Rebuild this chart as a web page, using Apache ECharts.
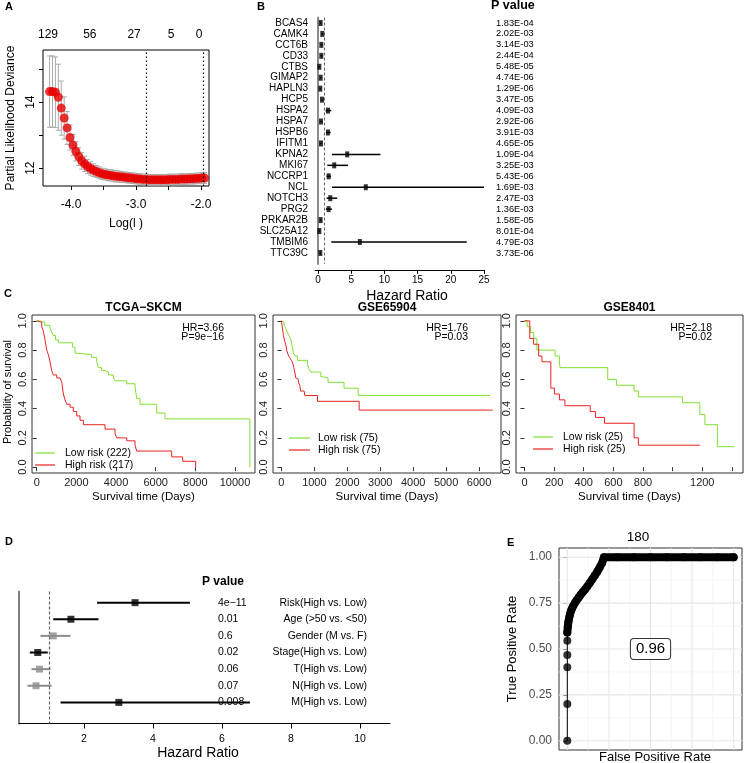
<!DOCTYPE html>
<html>
<head>
<meta charset="utf-8">
<script src="https://cdn.jsdelivr.net/npm/echarts@6.0.0/dist/echarts.min.js"></script>
<style>
html,body{margin:0;padding:0;background:#fff;}
#chart{width:747px;height:763px;}
</style>
</head>
<body>
<div id="chart"></div>
<script>
// ---------------- Panel A : LASSO cross-validation ----------------
const lassoLogLambda = [-4.33,-4.285,-4.24,-4.195,-4.15,-4.105,-4.06,-4.015,-3.97,-3.925,-3.88,-3.835,-3.79,-3.745,-3.70,-3.655,-3.61,-3.565,-3.52,-3.475,-3.43,-3.385,-3.34,-3.295,-3.25,-3.205,-3.16,-3.115,-3.07,-3.025,-2.98,-2.935,-2.89,-2.845,-2.80,-2.755,-2.71,-2.665,-2.62,-2.575,-2.53,-2.485,-2.44,-2.395,-2.35,-2.305,-2.26,-2.215,-2.17,-2.125,-2.08,-2.035,-1.99,-1.945];
const lassoDeviance = [14.32,14.32,14.30,14.15,13.82,13.52,13.22,12.93,12.70,12.51,12.35,12.22,12.13,12.05,11.99,11.94,11.90,11.86,11.83,11.81,11.79,11.78,11.76,11.75,11.74,11.73,11.72,11.71,11.70,11.69,11.68,11.67,11.66,11.66,11.65,11.65,11.65,11.65,11.65,11.65,11.65,11.66,11.66,11.66,11.66,11.67,11.67,11.67,11.68,11.68,11.69,11.69,11.70,11.70];
const lassoSD = [1.08,1.08,1.07,1.00,0.82,0.64,0.50,0.38,0.32,0.29,0.27,0.25,0.23,0.21,0.20,0.19,0.18,0.18,0.17,0.17,0.17,0.17,0.17,0.17,0.17,0.16,0.16,0.16,0.16,0.16,0.16,0.16,0.16,0.16,0.16,0.16,0.16,0.16,0.16,0.16,0.16,0.16,0.16,0.16,0.16,0.16,0.16,0.16,0.16,0.16,0.16,0.16,0.16,0.16];
const lassoTopLambda = [-4.354,-3.71,-3.03,-2.46,-2.03];
const lassoTopCount = ['129','56','27','5','0'];
const lassoSelected = [-2.846,-1.965];
const lassoXTicks = [-4,-3.5,-3,-2.5,-2];
const lassoXLabels = [-4,-3,-2];
const lassoYTicks = [12,13,14,15];
const lassoYLabels = [12,14];

// ---------------- Panel B : univariate Cox ----------------
const uniGenes = ['BCAS4','CAMK4','CCT6B','CD33','CTBS','GIMAP2','HAPLN3','HCP5','HSPA2','HSPA7','HSPB6','IFITM1','KPNA2','MKI67','NCCRP1','NCL','NOTCH3','PRG2','PRKAR2B','SLC25A12','TMBIM6','TTC39C'];
const uniHR   = [0.40,0.65,0.50,0.50,0.20,0.40,0.35,0.60,1.50,0.45,1.50,0.45,4.40,2.45,1.60,7.20,1.85,1.60,0.40,0.20,6.30,0.35];
const uniLow  = [0.30,0.55,0.40,0.40,0.12,0.30,0.25,0.50,1.15,0.35,1.20,0.35,2.10,1.40,1.30,2.10,1.30,1.20,0.30,0.10,2.00,0.25];
const uniHigh = [0.50,0.75,0.65,0.65,0.30,0.50,0.45,0.70,2.00,0.55,1.90,0.55,9.40,4.50,1.95,25.0,2.90,2.10,0.50,0.30,22.4,0.45];
const uniP = ['1.83E-04','2.02E-03','3.14E-03','2.44E-04','5.48E-05','4.74E-06','1.29E-06','3.47E-05','4.09E-03','2.92E-06','3.91E-03','4.65E-05','1.09E-04','3.25E-03','5.43E-06','1.69E-03','2.47E-03','1.36E-03','1.58E-05','8.01E-04','4.79E-03','3.73E-06'];
const uniXTicks = [0,5,10,15,20,25];

// ---------------- Panel C : Kaplan-Meier ----------------
const kmTcgaLowT  = [0,170,400,672,760,840,950,1092,1815,1933,2017,2773,3025,3109,3277,3445,3613,3866,3950,4538,4958,5042,5210,6050,6471,10750,10750];
const kmTcgaLowS  = [1,0.99,0.97,0.95,0.92,0.90,0.87,0.85,0.82,0.78,0.77,0.75,0.72,0.68,0.66,0.65,0.63,0.61,0.59,0.57,0.55,0.47,0.43,0.37,0.33,0.33,0];
const kmTcgaHighT = [0,84,252,336,420,504,588,672,756,840,1008,1176,1261,1345,1429,1513,1681,1849,2017,2185,2353,3445,3950,4034,4538,4958,5042,6807,7361,8017,8017];
const kmTcgaHighS = [1,0.99,0.96,0.93,0.87,0.80,0.77,0.72,0.66,0.63,0.61,0.60,0.58,0.50,0.46,0.43,0.41,0.38,0.35,0.32,0.29,0.26,0.23,0.20,0.18,0.15,0.11,0.07,0.04,0.04,0];
const kmG659LowT  = [0,50,80,130,180,230,285,335,365,415,485,790,840,890,1195,1245,1415,1900,2330,6335];
const kmG659LowS  = [1,0.99,0.97,0.95,0.92,0.90,0.87,0.82,0.78,0.76,0.73,0.70,0.67,0.65,0.62,0.61,0.58,0.54,0.49,0.49];
const kmG659HighT = [0,30,60,100,130,160,200,245,305,345,375,405,435,485,515,555,585,690,710,1095,2360,6410];
const kmG659HighS = [1,0.95,0.90,0.86,0.84,0.80,0.77,0.75,0.73,0.71,0.68,0.65,0.61,0.60,0.58,0.56,0.52,0.51,0.49,0.45,0.39,0.39];
const kmG840LowT  = [0,18,40,62,84,207,236,240,562,622,740,769,1067,1184,1218,1302,1418];
const kmG840LowS  = [1,0.96,0.92,0.88,0.80,0.76,0.72,0.68,0.60,0.56,0.52,0.48,0.44,0.36,0.29,0.14,0.14];
const kmG840HighT = [0,36,62,96,118,178,202,236,273,444,480,540,740,769,1184];
const kmG840HighS = [1,0.88,0.84,0.76,0.72,0.54,0.50,0.46,0.42,0.38,0.34,0.30,0.20,0.15,0.15];
const kmTitles = ['TCGA\u2212SKCM','GSE65904','GSE8401'];
const kmHR = ['HR=3.66','HR=1.76','HR=2.18'];
const kmP  = ['P=9e\u221216','P=0.03','P=0.02'];
const kmLowLabel  = ['Low risk (222)','Low risk (75)','Low risk (25)'];
const kmHighLabel = ['High risk (217)','High risk (75)','High risk (25)'];
const kmYTicks = [0,0.2,0.4,0.6,0.8,1.0];
const kmX1Ticks = [0,2000,4000,6000,8000,10000];
const kmX2Ticks = [0,1000,2000,3000,4000,5000,6000];
const kmX3Ticks = [0,200,400,600,800,1000,1200,1400];
const kmX3Labels = [0,200,400,600,800,1200];

// ---------------- Panel D : multivariate Cox ----------------
const multiVars = ['Risk(High vs. Low)','Age (>50 vs. <50)','Gender (M vs. F)','Stage(High vs. Low)','T(High vs. Low)','N(High vs. Low)','M(High vs. Low)'];
const multiP    = ['4e\u221211','0.01','0.6','0.02','0.06','0.07','0.008'];
const multiHR   = [3.48,1.62,1.11,0.66,0.71,0.61,3.01];
const multiLow  = [2.38,1.11,0.74,0.43,0.48,0.36,1.32];
const multiHigh = [5.07,2.42,1.61,0.95,1.03,1.06,6.81];
const multiSig  = [1,1,0,1,0,0,1];
const multiXTicks = [2,4,6,8,10];

// ---------------- Panel E : ROC ----------------
const rocFPR = [0,0,0,0,0,0,0.003,0.006,0.01,0.015,0.021,0.028,0.036,0.045,0.056,0.068,0.08,0.093,0.107,0.12,0.135,0.15,0.165,0.18,0.195,0.21,0.22,0.3,0.4,0.5,0.6,0.7,0.8,0.9,1.0];
const rocTPR = [0,0.2,0.4,0.467,0.545,0.59,0.62,0.645,0.665,0.685,0.705,0.72,0.735,0.75,0.765,0.78,0.795,0.81,0.825,0.84,0.86,0.88,0.90,0.92,0.945,0.97,1.0,1,1,1,1,1,1,1,1];
const rocAUC = '0.96';
const rocTitle = '180';
const rocYTicks = [0,0.25,0.5,0.75,1];
const rocGridMajor = [0,0.25,0.5,0.75,1];
const rocGridMinor = [0.125,0.375,0.625,0.875];

// =================================================================
const FONT = '"Liberation Sans", Arial, Helvetica, sans-serif';
const chart = echarts.init(document.getElementById('chart'), null, {renderer:'canvas', width:747, height:763});

function nearest(arr, v){ let b=0; for(let i=1;i<arr.length;i++){ if(Math.abs(arr[i]-v)<Math.abs(arr[b]-v)) b=i; } return b; }
function lbl(o){ return Object.assign({show:true, color:'#000', fontFamily:FONT, fontSize:11}, o); }
function ax(o){
  return Object.assign({type:'value', splitLine:{show:false}, axisLine:{show:false},
    axisTick:{show:false}, axisLabel:{show:false}}, o);
}
function ticks(vals, len, color){ return {show:true, length:len||4, customValues:vals, lineStyle:{color:color||'#000', width:1}}; }
const pairs = (a,b) => a.map((v,i)=>[v,b[i]]);
const plain = v => String(v);

const grids = [
  {left:43, top:50, width:166, height:136, show:true, borderColor:'#000', borderWidth:1, backgroundColor:'transparent', outerBoundsMode:'none'},
  {left:315, top:17.5, width:169, height:246.4, outerBoundsMode:'none'},
  {left:32, top:315, width:223, height:158, show:true, borderColor:'#333', borderWidth:1, backgroundColor:'transparent', outerBoundsMode:'none'},
  {left:273, top:315, width:228, height:158, show:true, borderColor:'#333', borderWidth:1, backgroundColor:'transparent', outerBoundsMode:'none'},
  {left:516, top:315, width:227, height:158, show:true, borderColor:'#333', borderWidth:1, backgroundColor:'transparent', outerBoundsMode:'none'},
  {left:19, top:591.5, width:371, height:132, outerBoundsMode:'none'},
  {left:559, top:548, width:183, height:202, show:true, borderColor:'#333', borderWidth:1, backgroundColor:'#fff', outerBoundsMode:'none'}
];

const xAxes = [
  ax({gridIndex:0, min:-4.431, max:-1.877, axisTick:ticks(lassoXTicks,4),
      axisLabel:lbl({customValues:lassoXLabels, formatter:v=>v.toFixed(1), fontSize:12, margin:13})}),
  ax({gridIndex:0, position:'top', min:-4.431, max:-1.877,
      axisLabel:lbl({customValues:lassoTopLambda, formatter:v=>lassoTopCount[nearest(lassoTopLambda,v)], fontSize:12, margin:9})}),
  ax({gridIndex:1, min:-0.45, max:25, offset:6, axisLine:{show:true, lineStyle:{color:'#000', width:1}}, axisTick:ticks(uniXTicks,4),
      axisLabel:lbl({customValues:uniXTicks, formatter:plain, fontSize:10, margin:5})}),
  ax({gridIndex:2, min:-237, max:11008, axisTick:ticks(kmX1Ticks,4,'#333'), axisLabel:lbl({customValues:kmX1Ticks, formatter:plain, fontSize:11, margin:4, color:'#222'})}),
  ax({gridIndex:3, min:-256, max:6666, axisTick:ticks(kmX2Ticks,4,'#333'), axisLabel:lbl({customValues:kmX2Ticks, formatter:plain, fontSize:11, margin:4, color:'#222'})}),
  ax({gridIndex:4, min:-57, max:1475, axisTick:ticks(kmX3Ticks,4,'#333'), axisLabel:lbl({customValues:kmX3Labels, formatter:plain, fontSize:11, margin:4, color:'#222'})}),
  ax({gridIndex:5, min:0.116, max:10.87, axisLine:{show:true, lineStyle:{color:'#000', width:1}}, axisTick:ticks(multiXTicks,5),
      axisLabel:lbl({customValues:multiXTicks, formatter:plain, fontSize:10.5, margin:10})}),
  ax({gridIndex:6, min:-0.05, max:1.05})
];
const yAxes = [
  ax({gridIndex:0, min:11.46, max:15.58, axisTick:ticks(lassoYTicks,4),
      axisLabel:lbl({customValues:lassoYLabels, formatter:plain, rotate:90, fontSize:12, margin:6})}),
  ax({gridIndex:1, inverse:true, min:0.5, max:23, axisLine:{show:true, lineStyle:{color:'#8a8a8a', width:2}},
      axisLabel:lbl({customValues:uniGenes.map((g,i)=>i+1), formatter:v=>uniGenes[Math.round(v)-1], fontSize:10, margin:7})}),
  ax({gridIndex:1, position:'right', inverse:true, min:0.5, max:23,
      axisLabel:lbl({customValues:uniP.map((g,i)=>i+1), formatter:v=>uniP[Math.round(v)-1], fontSize:9.3, margin:12, align:'left'})}),
  ax({gridIndex:2, min:-0.04, max:1.04, axisTick:ticks(kmYTicks,4,'#333'), axisLabel:lbl({customValues:kmYTicks, formatter:v=>v.toFixed(1), rotate:90, fontSize:11, margin:4, color:'#222'})}),
  ax({gridIndex:3, min:-0.04, max:1.04, axisTick:ticks(kmYTicks,4,'#333'), axisLabel:lbl({customValues:kmYTicks, formatter:v=>v.toFixed(1), rotate:90, fontSize:11, margin:4, color:'#222'})}),
  ax({gridIndex:4, min:-0.04, max:1.04, axisTick:ticks(kmYTicks,4,'#333'), axisLabel:lbl({customValues:kmYTicks, formatter:v=>v.toFixed(1), rotate:90, fontSize:11, margin:4, color:'#222'})}),
  ax({gridIndex:5, inverse:true, min:0.33, max:8.27, axisLine:{show:true, lineStyle:{color:'#808080', width:2}}}),
  ax({gridIndex:6, min:-0.05, max:1.05, axisTick:ticks(rocYTicks,4,'#333'),
      axisLabel:lbl({customValues:rocYTicks, formatter:v=>v.toFixed(2), fontSize:12, margin:7, color:'#4d4d4d'})})
];

const GREEN = '#7fe030', RED = '#e8231f';
function kmSeries(t, s, color, idx){
  return {type:'line', xAxisIndex:idx, yAxisIndex:idx, step:'end', symbol:'none', showSymbol:false, silent:true, z:3,
    data:pairs(t,s), lineStyle:{color, width:1}, itemStyle:{color}};
}
function lineEl(a,b,st){ return {type:'line', shape:{x1:a[0],y1:a[1],x2:b[0],y2:b[1]}, style:st}; }

const series = [
  {type:'custom', xAxisIndex:0, yAxisIndex:0, z:2, silent:true, encode:{x:0, y:[1,2]},
   data: lassoLogLambda.map((l,i)=>[l, lassoDeviance[i]-lassoSD[i], lassoDeviance[i]+lassoSD[i]]),
   renderItem:(p,api)=>{
     const t=api.coord([api.value(0),api.value(2)]), b=api.coord([api.value(0),api.value(1)]);
     const st={stroke:'#a9a9a9', lineWidth:1};
     return {type:'group', children:[lineEl(t,b,st), lineEl([t[0]-2.5,t[1]],[t[0]+2.5,t[1]],st), lineEl([b[0]-2.5,b[1]],[b[0]+2.5,b[1]],st)]};
   }},
  {type:'scatter', xAxisIndex:0, yAxisIndex:0, z:3, silent:true, symbol:'circle', symbolSize:9,
   itemStyle:{color:'#e60000'}, data:pairs(lassoLogLambda, lassoDeviance),
   markLine:{silent:true, symbol:['none','none'], label:{show:false}, animation:false,
     lineStyle:{color:'#000', type:[1.5,2.5], width:1.2}, data:lassoSelected.map(v=>({xAxis:v}))}},
  {type:'custom', xAxisIndex:2, yAxisIndex:1, z:3, silent:true, encode:{x:[0,1], y:2},
   data: uniGenes.map((g,i)=>[uniLow[i], uniHigh[i], i+1]),
   renderItem:(p,api)=>{
     const a=api.coord([api.value(0),api.value(2)]), b=api.coord([api.value(1),api.value(2)]);
     return lineEl(a,b,{stroke:'#000', lineWidth:1.5});
   }},
  {type:'scatter', xAxisIndex:2, yAxisIndex:1, z:4, silent:true, symbol:'rect', symbolSize:[4,6],
   itemStyle:{color:'#000'}, data: uniHR.map((h,i)=>[h,i+1]),
   markLine:{silent:true, symbol:['none','none'], label:{show:false}, animation:false,
     lineStyle:{color:'#666', type:[3,2], width:1}, data:[{xAxis:1}]}},
  kmSeries(kmTcgaLowT, kmTcgaLowS, GREEN, 3),
  kmSeries(kmTcgaHighT, kmTcgaHighS, RED, 3),
  kmSeries(kmG659LowT, kmG659LowS, GREEN, 4),
  kmSeries(kmG659HighT, kmG659HighS, RED, 4),
  kmSeries(kmG840LowT, kmG840LowS, GREEN, 5),
  kmSeries(kmG840HighT, kmG840HighS, RED, 5),
  {type:'custom', xAxisIndex:6, yAxisIndex:6, z:3, silent:true, encode:{x:0, y:1},
   data: multiVars.map((v,i)=>[1, i+1]),
   renderItem:(p,api)=>{
     const y=api.coord([1, api.value(1)])[1];
     const base={fill:'#000', fontSize:10.5, fontFamily:FONT, verticalAlign:'middle', textVerticalAlign:'middle'};
     return {type:'group', children:[
       {type:'text', x:218, y:y, style:Object.assign({text:multiP[p.dataIndex], align:'left', textAlign:'left'}, base)},
       {type:'text', x:367, y:y, style:Object.assign({text:multiVars[p.dataIndex], align:'right', textAlign:'right'}, base)}
     ]};
   }},
  {type:'custom', xAxisIndex:6, yAxisIndex:6, z:4, silent:true, encode:{x:[0,1], y:2},
   data: multiVars.map((v,i)=>[multiLow[i], multiHigh[i], i+1]),
   renderItem:(p,api)=>{
     const a=api.coord([api.value(0),api.value(2)]), b=api.coord([api.value(1),api.value(2)]);
     return lineEl(a,b,{stroke: multiSig[p.dataIndex] ? '#000' : '#8c8c8c', lineWidth:2});
   }},
  {type:'scatter', xAxisIndex:6, yAxisIndex:6, z:5, silent:true, symbol:'rect', symbolSize:7,
   data: multiHR.map((h,i)=>({value:[h,i+1], itemStyle:{color: multiSig[i] ? '#000' : '#8c8c8c'}})),
   markLine:{silent:true, symbol:['none','none'], label:{show:false}, animation:false,
     lineStyle:{color:'#666', type:[3,2], width:1.2}, data:[{xAxis:1}]}},
  {type:'custom', xAxisIndex:7, yAxisIndex:7, z:1, silent:true,
   data: rocGridMajor.map(v=>[v,1]).concat(rocGridMinor.map(v=>[v,0])),
   renderItem:(p,api)=>{
     const v=api.value(0), mj=api.value(1);
     const st={stroke: mj ? '#e6e6e6' : '#f2f2f2', lineWidth: mj ? 1.1 : 0.7};
     return {type:'group', children:[
       lineEl(api.coord([v,-0.05]), api.coord([v,1.05]), st),
       lineEl(api.coord([-0.05,v]), api.coord([1.05,v]), st)]};
   }},
  {type:'line', xAxisIndex:7, yAxisIndex:7, z:3, silent:true, symbol:'none', showSymbol:false,
   data: pairs(rocFPR, rocTPR).slice(0,6), lineStyle:{color:'#000', width:1}},
  {type:'line', xAxisIndex:7, yAxisIndex:7, z:3, silent:true, symbol:'none', showSymbol:false,
   data: pairs(rocFPR, rocTPR).slice(5), lineStyle:{color:'#000', width:8, cap:'round', join:'round'}},
  {type:'scatter', xAxisIndex:7, yAxisIndex:7, z:4, silent:true, symbol:'circle', symbolSize:8,
   itemStyle:{color:'#000'}, data: pairs(rocFPR, rocTPR)},
  {type:'custom', xAxisIndex:7, yAxisIndex:7, z:6, silent:true, data:[[0.5,0.5]],
   renderItem:(p,api)=>{
     const c=api.coord([api.value(0),api.value(1)]);
     return {type:'text', x:c[0], y:c[1], style:{text:rocAUC, fill:'#000', fontSize:15, fontFamily:FONT,
       align:'center', verticalAlign:'middle', textAlign:'center', textVerticalAlign:'middle',
       backgroundColor:'#fff', borderColor:'#333', borderWidth:1, borderRadius:3, padding:[3,5,2,5]}};
   }}
];

const G = [];
function txt(text, x, y, o){
  o = o || {};
  G.push({type:'text', x:x, y:y, rotation:o.rot||0, z:100, silent:true,
    style:{text:text, fill:o.color||'#000', fontSize:o.size||12, fontWeight:o.bold?'bold':'normal', fontFamily:FONT,
      align:o.align||'left', verticalAlign:'middle', textAlign:o.align||'left', textVerticalAlign:'middle'}});
}
function seg(x1,y1,x2,y2,color,w){ G.push({type:'line', z:100, silent:true, shape:{x1:x1,y1:y1,x2:x2,y2:y2}, style:{stroke:color, lineWidth:w||1}}); }

txt('A', 5, 7, {bold:true, size:11});
txt('B', 257, 7, {bold:true, size:11});
txt('C', 4, 294, {bold:true, size:11});
txt('D', 5, 542, {bold:true, size:11});
txt('E', 507, 543, {bold:true, size:11});
txt('Partial Likelihood Deviance', 11, 118, {rot:Math.PI/2, align:'center', size:12});
txt('Log(l )', 126, 224, {align:'center', size:12});
txt('P value', 491, 6, {bold:true, size:12.5});
txt('Hazard Ratio', 407, 296, {align:'center', size:14});
const kmCx = [143.5, 387, 629.5];
const kmRight = [224, 468, 712];
const legX = [[35,55,65],[289,310,318],[533,553,563]];
const legY = [[453,465],[438,450],[437,449]];
for (let i=0;i<3;i++){
  txt(kmTitles[i], kmCx[i], 308, {align:'center', bold:true, size:12});
  txt(kmHR[i], kmRight[i], 328, {align:'right', size:10.5});
  txt(kmP[i], kmRight[i], 337.5, {align:'right', size:10.5});
  txt('Survival time (Days)', kmCx[i], 497, {align:'center', size:11.5});
  seg(legX[i][0], legY[i][0], legX[i][1], legY[i][0], GREEN, 1.2);
  seg(legX[i][0], legY[i][1], legX[i][1], legY[i][1], RED, 1.2);
  txt(kmLowLabel[i], legX[i][2], legY[i][0], {size:10.5});
  txt(kmHighLabel[i], legX[i][2], legY[i][1], {size:10.5});
}
txt('Probability of survival', 8, 392, {rot:Math.PI/2, align:'center', size:11});
txt('P value', 202, 582, {bold:true, size:12});
txt('Hazard Ratio', 198, 753, {align:'center', size:14});
txt(rocTitle, 638, 537, {align:'center', size:13.5});
txt('True Positive Rate', 512, 649, {rot:Math.PI/2, align:'center', size:13});
txt('False Positive Rate', 655, 757, {align:'center', size:13});

chart.setOption({
  animation:false,
  backgroundColor:'#fff',
  textStyle:{fontFamily:FONT},
  grid:grids, xAxis:xAxes, yAxis:yAxes, series:series, graphic:G
});
</script>
</body>
</html>
